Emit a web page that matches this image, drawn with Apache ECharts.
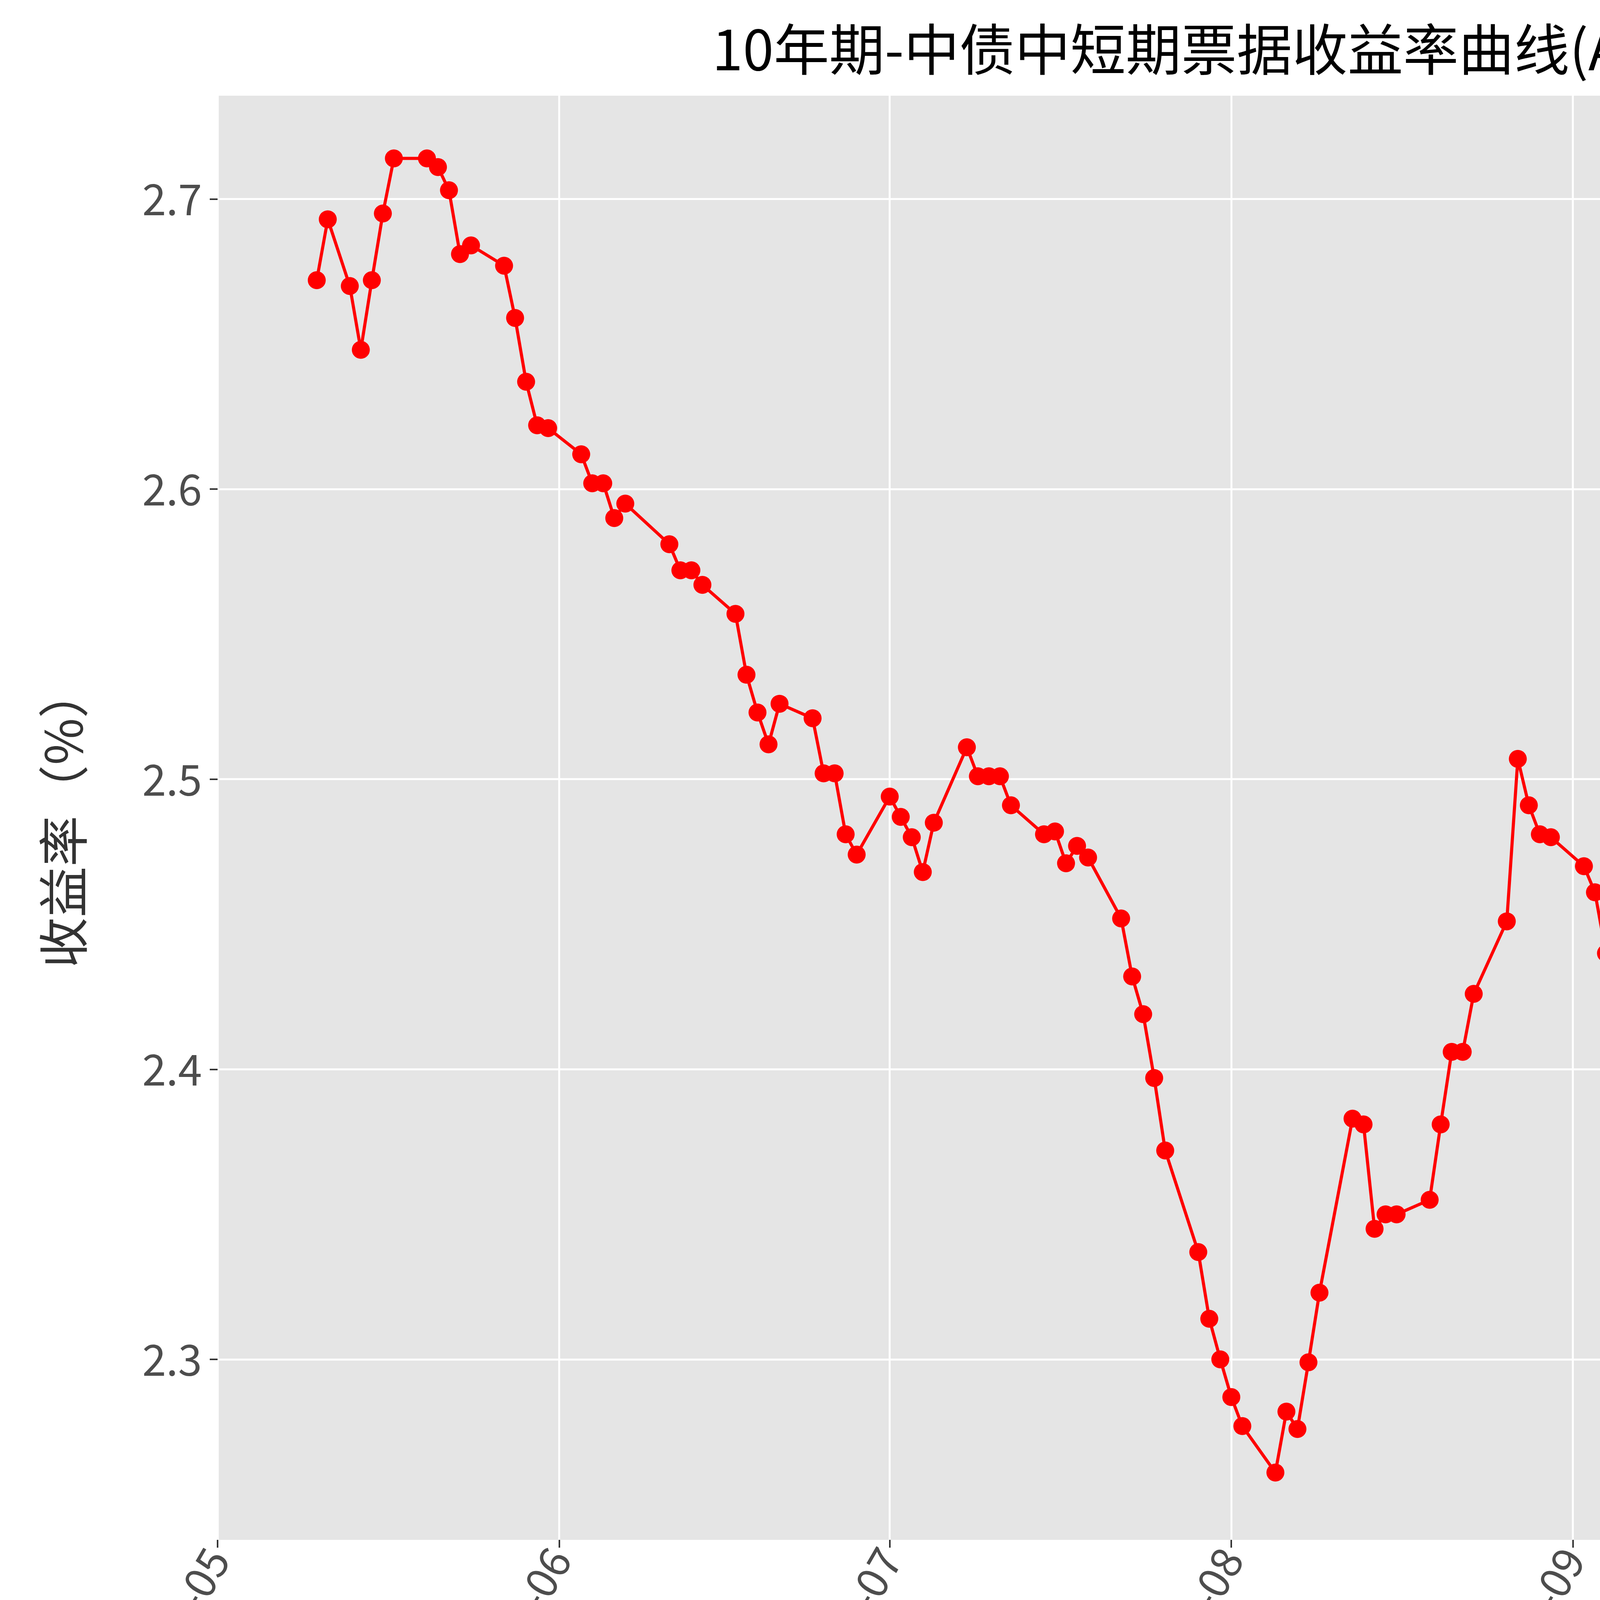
<!DOCTYPE html>
<html>
<head>
<meta charset="utf-8">
<script src="https://cdn.jsdelivr.net/npm/echarts@6/dist/echarts.min.js"></script>
<style>html,body{margin:0;padding:0;background:#fff}#chart{width:6194px;height:4573px}</style>
</head>
<body>
<div id="chart"></div>
<script>
var dates = ["2024-05-10","2024-05-11","2024-05-13","2024-05-14","2024-05-15","2024-05-16","2024-05-17","2024-05-20","2024-05-21","2024-05-22","2024-05-23","2024-05-24","2024-05-27","2024-05-28","2024-05-29","2024-05-30","2024-05-31",
"2024-06-03","2024-06-04","2024-06-05","2024-06-06","2024-06-07","2024-06-11","2024-06-12","2024-06-13","2024-06-14","2024-06-17","2024-06-18","2024-06-19","2024-06-20","2024-06-21","2024-06-24","2024-06-25","2024-06-26","2024-06-27","2024-06-28",
"2024-07-01","2024-07-02","2024-07-03","2024-07-04","2024-07-05","2024-07-08","2024-07-09","2024-07-10","2024-07-11","2024-07-12","2024-07-15","2024-07-16","2024-07-17","2024-07-18","2024-07-19","2024-07-22","2024-07-23","2024-07-24","2024-07-25","2024-07-26","2024-07-29","2024-07-30","2024-07-31",
"2024-08-01","2024-08-02","2024-08-05","2024-08-06","2024-08-07","2024-08-08","2024-08-09","2024-08-12","2024-08-13","2024-08-14","2024-08-15","2024-08-16","2024-08-19","2024-08-20","2024-08-21","2024-08-22","2024-08-23","2024-08-26","2024-08-27","2024-08-28","2024-08-29","2024-08-30",
"2024-09-02","2024-09-03","2024-09-04","2024-09-05","2024-09-06","2024-09-09","2024-09-10","2024-09-11","2024-09-12","2024-09-13","2024-09-14","2024-09-18","2024-09-19","2024-09-20","2024-09-23","2024-09-24","2024-09-25","2024-09-26","2024-09-27","2024-09-29","2024-09-30",
"2024-10-08","2024-10-09","2024-10-10","2024-10-11","2024-10-12","2024-10-14","2024-10-15","2024-10-16","2024-10-17","2024-10-18","2024-10-21","2024-10-22","2024-10-23","2024-10-24","2024-10-25","2024-10-28","2024-10-29","2024-10-30","2024-10-31",
"2024-11-01","2024-11-04","2024-11-05","2024-11-06"];
var yields = [2.672,2.693,2.670,2.648,2.672,2.695,2.714,2.714,2.711,2.703,2.681,2.684,2.677,2.659,2.637,2.622,2.621,
2.612,2.602,2.602,2.590,2.595,2.581,2.572,2.572,2.567,2.557,2.536,2.523,2.512,2.526,2.521,2.502,2.502,2.481,2.474,
2.494,2.487,2.480,2.468,2.485,2.511,2.501,2.501,2.501,2.491,2.481,2.482,2.471,2.477,2.473,2.452,2.432,2.419,2.397,2.372,2.337,2.314,2.300,
2.287,2.277,2.261,2.282,2.276,2.299,2.323,2.383,2.381,2.345,2.350,2.350,2.355,2.381,2.406,2.406,2.426,2.451,2.507,2.491,2.481,2.480,
2.470,2.461,2.440,2.409,2.402,2.391,2.377,2.365,2.350,2.335,2.320,2.305,2.305,2.312,2.300,2.314,2.306,2.327,2.420,2.537,2.543,
2.634,2.684,2.651,2.583,2.553,2.515,2.486,2.475,2.469,2.466,2.462,2.488,2.523,2.535,2.558,2.579,2.591,2.594,2.591,
2.565,2.563,2.558,2.537];
var monthTicks = ["2024-05-01","2024-06-01","2024-07-01","2024-08-01","2024-09-01","2024-10-01","2024-11-01"];
var yTicks = [2.3, 2.4, 2.5, 2.6, 2.7];

var font = '"Noto Sans CJK SC", sans-serif';
function toTime(d) { return Date.UTC(+d.slice(0, 4), +d.slice(5, 7) - 1, +d.slice(8, 10)); }
var tickTimes = monthTicks.map(toTime);
var seriesData = dates.map(function (d, i) { return [toTime(d), yields[i]]; });

var option = {
	backgroundColor: '#ffffff',
	animation: false,
	title: {
		text: '10年期-中债中短期票据收益率曲线(AAA)',
		left: 'center',
		top: 50,
		textStyle: { fontFamily: font, fontSize: 142, fontWeight: 'normal', color: '#000' }
	},
	grid: { left: 557, right: 63, top: 245, bottom: 631, backgroundColor: '#e5e5e5', show: true, borderWidth: 0 },
	xAxis: {
		type: 'value',
		min: tickTimes[0],
		max: tickTimes[0] + 197.6 * 86400000,
		axisLine: { show: false },
		axisTick: { show: true, length: 20, lineStyle: { color: '#333', width: 4 }, customValues: tickTimes },
		axisLabel: {
			customValues: tickTimes,
			rotate: 60,
			fontFamily: font,
			fontSize: 110,
			color: '#4d4d4d',
			margin: 30,
			formatter: function (v) {
				var d = new Date(v);
				var m = d.getUTCMonth() + 1;
				return d.getUTCFullYear() + '-' + (m < 10 ? '0' + m : m);
			}
		},
		splitLine: { show: true, lineStyle: { color: '#ffffff', width: 5 }, customValues: tickTimes }
	},
	yAxis: {
		type: 'value',
		min: 2.2378,
		max: 2.7356,
		name: '收益率（%）',
		nameLocation: 'middle',
		nameGap: 330,
		nameTextStyle: { fontFamily: font, fontSize: 130, color: '#333' },
		axisLine: { show: false },
		axisTick: { show: true, length: 20, lineStyle: { color: '#333', width: 4 }, customValues: yTicks },
		axisLabel: { customValues: yTicks, fontFamily: font, fontSize: 110, color: '#4d4d4d', margin: 40, formatter: function (v) { return v.toFixed(1); } },
		splitLine: { show: true, lineStyle: { color: '#ffffff', width: 5 }, customValues: yTicks }
	},
	series: [{
		type: 'line',
		data: seriesData,
		symbol: 'circle',
		symbolSize: 46,
		itemStyle: { color: '#ff0000' },
		lineStyle: { color: '#ff0000', width: 8 }
	}],
	graphic: [{
		type: 'rect',
		right: 83,
		top: 290,
		shape: { width: 60, height: 45, r: 8 },
		style: { fill: '#f0f0f0', stroke: '#cccccc', lineWidth: 3 }
	}]
};
var myChart = echarts.init(document.getElementById('chart'));
myChart.setOption(option, true);
</script>
</body>
</html>
